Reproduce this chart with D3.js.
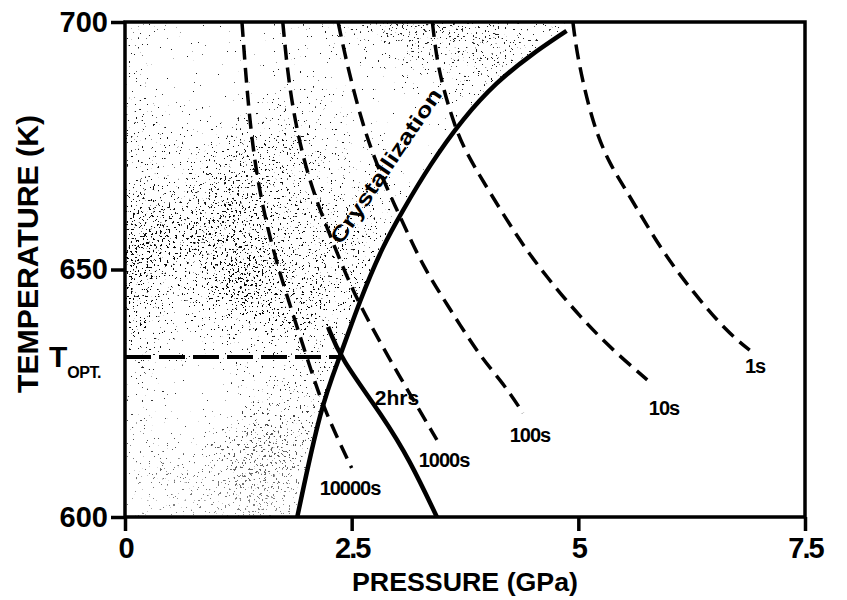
<!DOCTYPE html>
<meta charset="utf-8">
<style>
  body { margin: 0; background: #fff; }
  text { font-family: "Liberation Sans", Arial, sans-serif; font-weight: bold; fill: #000; }
</style>
<svg id="chart" width="847" height="600"></svg>
<script src="https://d3js.org/d3.v7.min.js"></script>
<script>

// axis ticks
const pressureTicks = [0, 2.5, 5, 7.5]
const pressureTickLabels = ["0", "2.5", "5", "7.5"]
const tempTicks = [600, 650, 700]
const tOpt = 632.3

// crystallization boundary (pressure GPa, temperature K)
const crystallization = [[1.90, 600], [2.16, 622.5], [2.37, 632.3], [2.59, 643.8], [2.85, 655.0],
  [3.05, 661.5], [3.36, 671.1], [3.73, 680.6], [4.10, 687.9], [4.47, 693.3], [4.87, 698.2]]

// solid 2 hrs curve
const twoHours = [[2.24, 638.4], [2.37, 632.3], [2.85, 620.2], [3.14, 611.5], [3.44, 600]]

// isochrones (dashed)
const iso10000 = [[1.29, 700], [1.40, 672.5], [1.62, 654.3], [1.82, 642.8], [2.04, 630.3],
  [2.20, 621.5], [2.50, 609.9]]
const iso1000 = [[1.74, 700], [1.82, 684.6], [2.01, 668.5], [2.29, 655.6], [2.55, 643.8],
  [3.03, 628.3], [3.44, 615.6]]
const iso100 = [[2.35, 700], [2.45, 691.3], [2.62, 679.2], [2.80, 670.0], [3.05, 660.0],
  [3.29, 650.5], [3.55, 643.0], [3.92, 632.3], [4.17, 627.1], [4.39, 621.0]]
const iso10 = [[3.39, 700], [3.45, 690.5], [3.60, 681.0], [3.73, 674.5], [4.02, 665.7],
  [4.36, 655.6], [4.65, 648.5], [5.02, 640.4], [5.38, 633.7], [5.76, 627.7]]
const iso1 = [[4.94, 700], [4.99, 692.7], [5.16, 679.2], [5.35, 671.1], [5.54, 665.7],
  [5.90, 654.3], [6.26, 645.5], [6.64, 637.4], [6.89, 633.7]]

const isoNames = ["10000s", "1000s", "100s", "10s", "1s"]
const isoCurves = [iso10000, iso1000, iso100, iso10, iso1]

const margin = {top: 22, right: 42, bottom: 83, left: 125}
const width = 847, height = 600

const svg = d3.select("#chart")

const x = d3.scaleLinear().domain([0, 7.5]).range([margin.left, width - margin.right])
const y = d3.scaleLinear().domain([600, 700]).range([height - margin.bottom, margin.top])

const line = d3.line()
  .x(d => x(d[0]))
  .y(d => y(d[1]))
  .curve(d3.curveBasis)

const defs = svg.append("defs")

defs.append("clipPath").attr("id", "plot")
  .append("rect")
  .attr("x", x(0)).attr("y", y(700))
  .attr("width", x(7.5) - x(0)).attr("height", y(600) - y(700))

// glassy region left of the crystallization line
const regionPath = line(crystallization.slice().reverse())
  + "L" + x(0) + "," + y(600) + "L" + x(0) + "," + y(700) + "L" + x(4.87) + "," + y(700) + "Z"
defs.append("clipPath").attr("id", "glass")
  .append("path").attr("d", regionPath)

// stipple texture
const f = defs.append("filter").attr("id", "stipple")
  .attr("x", 0).attr("y", 0).attr("width", 1).attr("height", 1)
  .attr("color-interpolation-filters", "sRGB")
f.append("feTurbulence").attr("type", "fractalNoise").attr("baseFrequency", 0.45)
  .attr("numOctaves", 2).attr("seed", 3).attr("result", "fine")
f.append("feColorMatrix").attr("in", "fine").attr("type", "matrix")
  .attr("values", "1 0 0 0 0  1 0 0 0 0  1 0 0 0 0  0 0 0 0 1").attr("result", "fineG")
f.append("feTurbulence").attr("type", "fractalNoise").attr("baseFrequency", 0.006)
  .attr("numOctaves", 2).attr("seed", 11).attr("result", "coarse")
f.append("feColorMatrix").attr("in", "coarse").attr("type", "matrix")
  .attr("values", "1 0 0 0 0  1 0 0 0 0  1 0 0 0 0  0 0 0 0 1").attr("result", "coarseG")
f.append("feComposite").attr("in", "fineG").attr("in2", "coarseG").attr("operator", "arithmetic")
  .attr("k1", 0).attr("k2", 1).attr("k3", 0.35).attr("k4", -0.175).attr("result", "mix")
f.append("feColorMatrix").attr("in", "mix").attr("type", "matrix")
  .attr("values", "0 0 0 0 0  0 0 0 0 0  0 0 0 0 0  30 0 0 0 -21.3")

// density fades towards the bottom of the region
const grad = defs.append("linearGradient").attr("id", "fade")
  .attr("gradientUnits", "userSpaceOnUse")
  .attr("x1", 0).attr("x2", 0).attr("y1", y(700)).attr("y2", y(600))
grad.append("stop").attr("offset", 0).attr("stop-color", "#ddd")
grad.append("stop").attr("offset", 0.6).attr("stop-color", "#fff")
grad.append("stop").attr("offset", 1).attr("stop-color", "#777")
defs.append("mask").attr("id", "fadeMask")
  .attr("maskUnits", "userSpaceOnUse")
  .attr("x", 0).attr("y", 0).attr("width", width).attr("height", height)
  .append("rect")
  .attr("x", 0).attr("y", 0).attr("width", width).attr("height", height)
  .attr("fill", "url(#fade)")

svg.append("g")
  .attr("clip-path", "url(#glass)")
  .attr("mask", "url(#fadeMask)")
  .append("rect")
  .attr("x", x(0)).attr("y", y(700))
  .attr("width", x(7.5) - x(0)).attr("height", y(600) - y(700))
  .attr("fill", "#fff")
  .attr("filter", "url(#stipple)")

const plot = svg.append("g").attr("clip-path", "url(#plot)")

// dashed isochrones
plot.selectAll(".iso")
  .data(isoCurves)
  .join("path")
  .attr("class", "iso")
  .attr("d", line)
  .attr("fill", "none")
  .attr("stroke", "#000")
  .attr("stroke-width", 3.5)
  .attr("stroke-dasharray", "15 8")

// T opt
plot.append("line")
  .attr("x1", x(0)).attr("x2", x(2.37))
  .attr("y1", y(tOpt)).attr("y2", y(tOpt))
  .attr("stroke", "#000").attr("stroke-width", 4)
  .attr("stroke-dasharray", "26 8")

// solid curves
plot.selectAll(".solid")
  .data([crystallization, twoHours])
  .join("path")
  .attr("class", "solid")
  .attr("d", line)
  .attr("fill", "none")
  .attr("stroke", "#000")
  .attr("stroke-width", 4.5)

// frame
svg.append("rect")
  .attr("x", x(0)).attr("y", y(700))
  .attr("width", x(7.5) - x(0)).attr("height", y(600) - y(700))
  .attr("fill", "none").attr("stroke", "#000").attr("stroke-width", 3.5)

// axes
const xAxis = svg.append("g")
  .attr("transform", "translate(0," + y(600) + ")")
  .call(d3.axisBottom(x).tickValues(pressureTicks).tickSize(14).tickPadding(6)
    .tickFormat((d, i) => pressureTickLabels[i]))
const yAxis = svg.append("g")
  .attr("transform", "translate(" + x(0) + ",0)")
  .call(d3.axisLeft(y).tickValues(tempTicks).tickSize(14).tickPadding(3))

svg.selectAll(".domain").remove()
svg.selectAll(".tick line").attr("stroke", "#000").attr("stroke-width", 3.5)
svg.selectAll(".tick text")
  .style("font-family", '"Liberation Sans", Arial, sans-serif')
  .style("font-weight", "bold")
  .style("font-size", "29px")
  .attr("fill", "#000")
xAxis.selectAll(".tick text").attr("letter-spacing", -2)

// axis titles
svg.append("text")
  .attr("x", 465).attr("y", 591)
  .attr("text-anchor", "middle")
  .attr("font-size", 26)
  .attr("font-weight", "normal")
  .attr("textLength", 226).attr("lengthAdjust", "spacingAndGlyphs")
  .text("PRESSURE (GPa)")

svg.append("text")
  .attr("transform", "translate(38,254) rotate(-90)")
  .attr("text-anchor", "middle")
  .attr("font-size", 30)
  .attr("textLength", 278).attr("lengthAdjust", "spacingAndGlyphs")
  .text("TEMPERATURE (K)")

// T opt label
const tl = svg.append("text")
  .attr("x", 49).attr("y", y(tOpt) + 10)
  .attr("font-size", 30)
tl.append("tspan").text("T")
tl.append("tspan").attr("dy", 11).attr("font-size", 16).attr("letter-spacing", -0.5).text("OPT.")

// curve labels
const labelPos = [[350, 495], [444, 467], [530, 442], [664, 415], [755, 373]]
svg.selectAll(".isolab")
  .data(isoNames)
  .join("text")
  .attr("class", "isolab")
  .attr("x", (d, i) => labelPos[i][0])
  .attr("y", (d, i) => labelPos[i][1])
  .attr("text-anchor", "middle")
  .attr("font-size", 20)
  .attr("letter-spacing", -1)
  .text(d => d)

svg.append("text")
  .attr("x", 397).attr("y", 405)
  .attr("text-anchor", "middle")
  .attr("font-size", 21)
  .text("2hrs")

svg.append("text")
  .attr("transform", "translate(392,170) rotate(-56)")
  .attr("text-anchor", "middle")
  .attr("font-size", 21)
  .attr("textLength", 182).attr("lengthAdjust", "spacingAndGlyphs")
  .text("Crystallization")

</script>
